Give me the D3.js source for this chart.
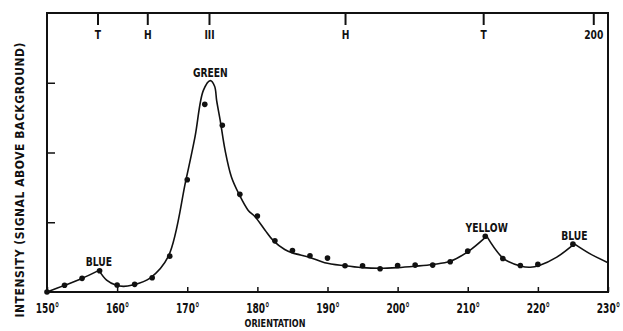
<!DOCTYPE html>
<html>
<head>
<style>
  body { margin: 0; background: #fff; }
  text { font-family: "Liberation Sans Narrow", "DejaVu Sans Condensed", sans-serif; font-weight: bold; fill: #111; }
</style>
</head>
<body>
<svg width="623" height="331"></svg>
<script src="https://d3js.org/d3.v7.min.js"></script>
<script>
  // measured points (orientation in degrees, intensity in arbitrary units)
  var pointDeg = [150, 152.5, 155, 157.5, 160, 162.5, 165, 167.5, 170, 172.5, 175, 177.5, 180, 182.5, 185,
                  187.5, 190, 192.5, 195, 197.5, 200, 202.5, 205, 207.5, 210, 212.5, 215, 217.5, 220, 225];
  var pointVal = [0.0, 0.096, 0.196, 0.304, 0.10, 0.11, 0.204, 0.514, 1.61, 2.69, 2.39, 1.40, 1.09, 0.733, 0.596,
                  0.519, 0.486, 0.376, 0.376, 0.333, 0.379, 0.386, 0.386, 0.433, 0.586, 0.80, 0.481, 0.381, 0.396, 0.686];

  // fitted curve
  var curveDeg = [150, 152.5, 155, 157.4, 158.5, 159.8, 160.9, 162.2, 164.7, 167.3, 169.8, 171.1, 172.3, 173.3,
                  173.9, 174.2, 174.7, 175.4, 176.3, 177.4, 178.7, 179.7, 181.1, 182.3, 183.9, 185.0, 187.5, 189.6,
                  192.5, 194.9, 197.5, 200, 202.5, 205, 207.5, 210.2, 212.7, 215.1, 217.6, 218.9, 220.2, 222.7,
                  225.2, 227.4, 230];
  var curveVal = [0, 0.095, 0.195, 0.31, 0.17, 0.10, 0.08, 0.10, 0.20, 0.51, 1.6, 2.22, 2.89, 3.03,
                  2.95, 2.74, 2.46, 2.03, 1.65, 1.40, 1.17, 1.076, 0.886, 0.733, 0.61, 0.561, 0.496, 0.42,
                  0.376, 0.35, 0.34, 0.35, 0.37, 0.395, 0.44, 0.59, 0.80, 0.48, 0.37, 0.355, 0.38, 0.50,
                  0.69, 0.55, 0.42];
  var cuspDeg = [157.4, 212.7, 225.2];

  // peak names
  var peakDeg = [157.4, 173.3, 212.7, 225.2];
  var peakVal = [0.31, 3.03, 0.80, 0.69];
  var peakNames = ["BLUE", "GREEN", "YELLOW", "BLUE"];

  // top axis marks
  var topDeg = [157.2, 164.3, 173.1, 192.5, 212.2, 227.9];
  var topLabels = ["T", "H", "III", "H", "T", "200"];

  var xTicks = [150, 160, 170, 180, 190, 200, 210, 220, 230];
  var yTicks = [1, 2, 3];

  var svg = d3.select("svg"),
      margin = {top: 13, right: 15, bottom: 39, left: 47},
      width = +svg.attr("width") - margin.left - margin.right,
      height = +svg.attr("height") - margin.top - margin.bottom,
      g = svg.append("g").attr("transform", "translate(" + margin.left + "," + margin.top + ")");

  var x = d3.scaleLinear().domain([150, 230]).range([0, width]);
  var y = d3.scaleLinear().domain([0, 4]).range([height, 0]);

  // frame
  g.append("rect")
      .attr("width", width)
      .attr("height", height)
      .attr("fill", "none")
      .attr("stroke", "#111")
      .attr("stroke-width", 2);

  // bottom axis: inner ticks + degree labels
  g.append("g")
      .attr("transform", "translate(0," + height + ")")
      .call(d3.axisBottom(x).tickValues(xTicks).tickSizeInner(-5).tickSizeOuter(0).tickPadding(11)
        .tickFormat(function(d) { return d + "°"; }))
      .call(function(a) {
        a.select(".domain").remove();
        a.selectAll("line").attr("stroke", "#111").attr("stroke-width", 1.5);
        a.selectAll("text").attr("font-size", 14).attr("font-family", null).attr("fill", null)
          .attr("transform", "scale(0.72,1)");
      });

  // left axis: inner ticks, no labels
  g.append("g")
      .call(d3.axisLeft(y).tickValues(yTicks).tickSize(-8).tickFormat(""))
      .call(function(a) {
        a.select(".domain").remove();
        a.selectAll("line").attr("stroke", "#111").attr("stroke-width", 1.5);
      });

  // top axis
  g.append("g")
      .call(d3.axisTop(x).tickValues(topDeg).tickSize(-12).tickPadding(-26)
        .tickFormat(function(d, i) { return topLabels[i]; }))
      .call(function(a) {
        a.select(".domain").remove();
        a.selectAll("line").attr("stroke", "#111").attr("stroke-width", 2);
        a.selectAll("text").attr("font-size", 12).attr("font-family", null).attr("fill", null)
          .attr("transform", "scale(0.85,1)");
      });

  // fitted curve, split at the cusps
  var curvePts = curveDeg.map(function(d, i) { return {deg: d, val: curveVal[i]}; });
  var bounds = [150].concat(cuspDeg).concat([230]);
  var line = d3.line()
      .x(function(d) { return x(d.deg); })
      .y(function(d) { return y(d.val); })
      .curve(d3.curveCatmullRom.alpha(0.5));

  for (var s = 0; s < bounds.length - 1; s++) {
    var seg = curvePts.filter(function(d) { return d.deg >= bounds[s] && d.deg <= bounds[s + 1]; });
    g.append("path")
        .datum(seg)
        .attr("fill", "none")
        .attr("stroke", "#111")
        .attr("stroke-width", 1.6)
        .attr("d", line);
  }

  // points
  g.selectAll(".dot")
    .data(pointDeg)
    .enter().append("circle")
      .attr("class", "dot")
      .attr("cx", function(d) { return x(d); })
      .attr("cy", function(d, i) { return y(pointVal[i]); })
      .attr("r", 2.8)
      .attr("fill", "#111");

  // peak names
  g.selectAll(".peak")
    .data(peakNames)
    .enter().append("g")
      .attr("class", "peak")
      .attr("transform", function(d, i) { return "translate(" + x(peakDeg[i]) + "," + (y(peakVal[i]) - 4) + ")"; })
    .append("text")
      .attr("text-anchor", "middle")
      .attr("font-size", 12)
      .attr("transform", "scale(0.85,1)")
      .text(function(d) { return d; });

  // axis titles
  svg.append("text")
      .attr("x", 275)
      .attr("y", 327)
      .attr("text-anchor", "middle")
      .attr("font-size", 11)
      .attr("textLength", 61)
      .attr("lengthAdjust", "spacingAndGlyphs")
      .text("ORIENTATION");

  svg.append("text")
      .attr("transform", "translate(24,180) rotate(-90)")
      .attr("text-anchor", "middle")
      .attr("font-size", 12)
      .attr("textLength", 275)
      .attr("lengthAdjust", "spacing")
      .text("INTENSITY (SIGNAL  ABOVE  BACKGROUND)");
</script>
</body>
</html>
